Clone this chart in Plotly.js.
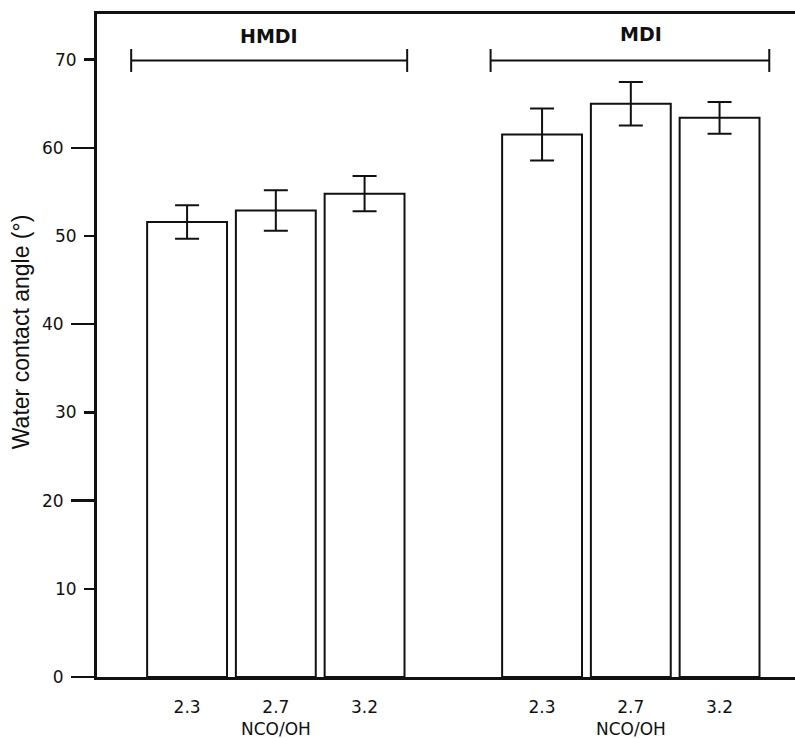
<!DOCTYPE html>
<html>
<head>
<meta charset="utf-8">
<script src="https://cdn.plot.ly/plotly-3.0.1.min.js"></script>
<style>html,body{margin:0;padding:0;background:#fff;}</style>
</head>
<body>
<div id="chart" style="width:795px;height:738px;"></div>
<script>
// ---- data ----
var groups = ["HMDI", "MDI"];
var ratioLabels = ["2.3", "2.7", "3.2"];
var hmdiAngle = [51.6, 52.9, 54.8];
var hmdiErr = [1.9, 2.3, 2.0];
var mdiAngle = [61.5, 65.0, 63.4];
var mdiErr = [2.95, 2.47, 1.8];
var xTitle = "NCO/OH";
var yTitle = "Water contact angle (°)";
var yMajorTicks = [0, 20, 40, 60];
var yMinorTicks = [10, 30, 50, 70];
// slot positions of bars (group 1 at slots 1-3, group 2 at slots 5-7)
var hmdiSlots = [1, 2, 3];
var mdiSlots = [5, 6, 7];
// bracket spans above each group, and bracket level (y units)
var bracketStart = [0.37, 4.42];
var bracketEnd = [3.48, 7.56];
var bracketLevel = 69.9;

var font = "DejaVu Sans, sans-serif";
var titleFont = "Liberation Sans, Arial, sans-serif";
var ink = "#111";

var barStyle = {
  type: "bar",
  width: 0.9,
  marker: {color: "#fff", line: {color: ink, width: 2}},
  hoverinfo: "skip",
  showlegend: false
};

var traces = [
  Object.assign({}, barStyle, {
    x: hmdiSlots, y: hmdiAngle,
    error_y: {type: "data", array: hmdiErr, visible: true, color: ink, thickness: 2, width: 12}
  }),
  Object.assign({}, barStyle, {
    x: mdiSlots, y: mdiAngle,
    error_y: {type: "data", array: mdiErr, visible: true, color: ink, thickness: 2, width: 12}
  }),
  // invisible trace to carry the minor-tick axis
  {x: [hmdiSlots[0]], y: [0], yaxis: "y2", mode: "markers", marker: {opacity: 0}, showlegend: false, hoverinfo: "skip"}
];

var shapes = [];
var annotations = [];
for (var i = 0; i < groups.length; i++) {
  shapes.push({type: "line", xref: "x", yref: "y", x0: bracketStart[i], x1: bracketEnd[i], y0: bracketLevel, y1: bracketLevel, line: {color: ink, width: 2}});
  shapes.push({type: "line", xref: "x", yref: "y", x0: bracketStart[i], x1: bracketStart[i], y0: bracketLevel - 1.3, y1: bracketLevel + 1.3, line: {color: ink, width: 2}});
  shapes.push({type: "line", xref: "x", yref: "y", x0: bracketEnd[i], x1: bracketEnd[i], y0: bracketLevel - 1.3, y1: bracketLevel + 1.3, line: {color: ink, width: 2}});
  annotations.push({
    text: "<b>" + groups[i] + "</b>", xref: "x", yref: "y",
    x: (bracketStart[i] + bracketEnd[i]) / 2 + (i === 1 ? 0.12 : 0), y: bracketLevel,
    yanchor: "bottom", yshift: (i === 1 ? 13 : 11), showarrow: false,
    font: {family: font, size: 19, color: ink}
  });
  var slots = i === 0 ? hmdiSlots : mdiSlots;
  annotations.push({
    text: xTitle, xref: "x", yref: "paper",
    x: slots[1], y: 0, yanchor: "top", yshift: -40, showarrow: false,
    font: {family: font, size: 17, color: ink}
  });
}
annotations.push({
  text: yTitle, xref: "paper", yref: "paper", x: 0, y: 0.52,
  xanchor: "center", yanchor: "middle", xshift: -76, textangle: -90, showarrow: false,
  font: {family: titleFont, size: 23, color: ink}
});

var yRange = [0, 75.17];
var layout = {
  width: 795, height: 738,
  margin: {l: 97, r: 0, t: 14, b: 61, pad: 0},
  paper_bgcolor: "#fff", plot_bgcolor: "#fff",
  bargap: 0,
  xaxis: {
    range: [-0.015, 7.85], showgrid: false, zeroline: false,
    showline: true, mirror: true, linecolor: ink, linewidth: 3,
    tickmode: "array", tickvals: hmdiSlots.concat(mdiSlots), ticktext: ratioLabels.concat(ratioLabels),
    ticks: "", ticklabelstandoff: 13,
    tickfont: {family: font, size: 17, color: ink}
  },
  yaxis: {
    range: yRange, showgrid: false, zeroline: false,
    showline: true, linecolor: ink, linewidth: 3,
    tickmode: "array", tickvals: yMajorTicks,
    ticks: "outside", ticklen: 23, tickwidth: 2.5, tickcolor: ink,
    ticklabelstandoff: 4,
    tickfont: {family: font, size: 17, color: ink}
  },
  yaxis2: {
    range: yRange, overlaying: "y", side: "left", anchor: "x",
    showgrid: false, zeroline: false, showline: false,
    tickmode: "array", tickvals: yMinorTicks,
    ticks: "outside", ticklen: 12, tickwidth: 2.5, tickcolor: ink,
    ticklabelstandoff: 4,
    tickfont: {family: font, size: 17, color: ink}
  },
  shapes: shapes,
  annotations: annotations
};

Plotly.newPlot("chart", traces, layout, {staticPlot: true, displayModeBar: false});
</script>
</body>
</html>
